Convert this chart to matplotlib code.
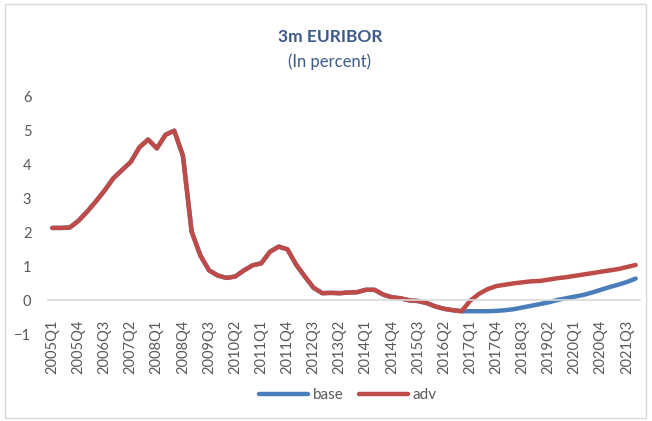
import numpy as np
import matplotlib.pyplot as plt
from matplotlib.patches import Rectangle

plt.rcParams['font.family'] = ['Lato', 'DejaVu Sans']

# quarters 2005Q1 .. 2021Q4
quarters = ['%dQ%d' % (y, q) for y in range(2005, 2022) for q in range(1, 5)]

history = [2.12, 2.12, 2.13, 2.33, 2.60, 2.90, 3.22, 3.58,
           3.82, 4.06, 4.49, 4.72, 4.46, 4.86, 4.98, 4.24,
           2.01, 1.31, 0.87, 0.72, 0.65, 0.69, 0.87, 1.02,
           1.08, 1.42, 1.57, 1.49, 1.04, 0.69, 0.36, 0.20,
           0.21, 0.20, 0.22, 0.23, 0.30, 0.30, 0.16, 0.08,
           0.05, -0.01, -0.03, -0.09, -0.19, -0.26, -0.30, -0.33]

base_fc = [-0.33, -0.33, -0.33, -0.32, -0.30, -0.27, -0.22, -0.17,
           -0.12, -0.07, 0.00, 0.05, 0.10, 0.15, 0.22, 0.30,
           0.38, 0.45, 0.53, 0.63]
adv_fc = [-0.02, 0.18, 0.32, 0.41, 0.45, 0.49, 0.52, 0.55,
          0.56, 0.60, 0.64, 0.67, 0.71, 0.75, 0.79, 0.83,
          0.87, 0.91, 0.97, 1.03]

base = history + base_fc
adv = history + adv_fc

blue = '#4a7ebb'
red = '#be4b48'

fig = plt.figure(figsize=(6.52, 4.21), dpi=100)
ax = fig.add_axes([48/652, 1-334/421, (640-48)/652, (334-96)/421])

# x axis sits at y = 0 (set before ticks, since this resets them)
for s in ['top', 'right', 'left']:
    ax.spines[s].set_visible(False)
ax.spines['bottom'].set_position(('data', 0))
ax.spines['bottom'].set_color('#d9d9d9')
ax.spines['bottom'].set_linewidth(1.2)

x = np.arange(len(quarters))
ax.plot(x, base, color=blue, linewidth=3.2, label='base', solid_capstyle='round')
ax.plot(x, adv, color=red, linewidth=3.2, label='adv', solid_capstyle='round')

ax.set_xlim(-0.5, len(quarters) - 0.5)
ax.set_ylim(-1, 6)
ax.set_yticks(range(-1, 7))

ax.set_xticks(x[::3])
ax.set_xticklabels(quarters[::3])
ax.tick_params(axis='x', length=0, pad=14, labelrotation=90, labelsize=10.5,
               labelcolor='#595959')
ax.tick_params(axis='y', length=0, pad=12, labelsize=10.5, labelcolor='#595959')

fig.text(330/652, 1-37/421, '3m EURIBOR', ha='center', va='center',
         fontsize=12.5, fontweight='bold', color='#3d5a89')
fig.text(330/652, 1-62/421, '(In percent)', ha='center', va='center',
         fontsize=12, color='#3d5a89')

fig.legend(loc='center', bbox_to_anchor=(348/652, 1-395/421), ncol=2, frameon=False,
           fontsize=11, handlelength=3.2, columnspacing=1.0, handletextpad=0.3,
           labelcolor='#595959')

fig.patches.append(Rectangle((5/652, 3/421), 641/652, 414/421, transform=fig.transFigure,
                             fill=False, edgecolor='#d9d9d9', linewidth=1))

fig.savefig('out.png', dpi=100)
